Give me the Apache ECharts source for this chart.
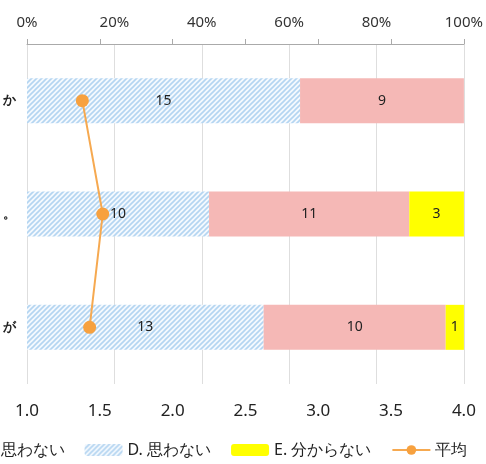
<!DOCTYPE html>
<html><head><meta charset="utf-8">
<script src="https://cdn.jsdelivr.net/npm/echarts@6/dist/echarts.min.js"></script>
<style>html,body{margin:0;padding:0;background:#fff}#c{width:486px;height:464px}</style>
</head><body><div id="c"></div>
<script>
var categories = ['か', '。', 'が'];
var seriesD = [15, 10, 13];   // D. 思わない (hatched)
var seriesC = [9, 11, 10];    // C. あまり思わない (pink)
var seriesE = [0, 3, 1];      // E. 分からない (yellow)
var averages = [1.38, 1.52, 1.43];
var pctTicks = [0, 20, 40, 60, 80, 100];
var avgTicks = [1.0, 1.5, 2.0, 2.5, 3.0, 3.5, 4.0];

var totals = categories.map(function (_, i) { return seriesD[i] + seriesC[i] + seriesE[i]; });
function pct(arr) { return arr.map(function (v, i) { return { value: v / totals[i] * 100, count: v }; }); }

var pc = document.createElement('canvas');
pc.width = 5; pc.height = 5;
var g = pc.getContext('2d');
g.fillStyle = '#f4f9fe'; g.fillRect(0, 0, 5, 5);
g.strokeStyle = '#b4d5f1'; g.lineWidth = 1.6;
g.beginPath();
g.moveTo(-1, 6); g.lineTo(6, -1);
g.moveTo(-6, 6); g.lineTo(1, -1);
g.moveTo(4, 6); g.lineTo(11, -1);
g.stroke();

var font = 'Noto Sans';
var lbl = {
  show: true, position: 'inside', color: '#222', fontFamily: font, fontSize: 14,
  formatter: function (p) { return p.data.count > 0 ? p.data.count : ''; }
};
var chart = echarts.init(document.getElementById('c'));
chart.setOption({
  animation: false,
  textStyle: { fontFamily: font },
  grid: { left: 24, right: 18, top: 44, bottom: 80 },
  legend: {
    bottom: 1, left: -114, itemGap: 20, itemWidth: 38, itemHeight: 12,
    textStyle: { fontSize: 16, color: '#222', fontFamily: font },
    data: ['C. あまり思わない', 'D. 思わない', 'E. 分からない', '平均']
  },
  xAxis: [
    { type: 'value', position: 'top', min: 0, max: 100, interval: 20,
      axisLine: { show: false }, axisTick: { show: false },
      axisLabel: { formatter: '{value}%', color: '#333', fontSize: 15, margin: 14, fontFamily: font },
      splitLine: { show: true, lineStyle: { color: '#dedede' } } },
    { type: 'value', position: 'top', min: 1, max: 4, interval: 0.5,
      axisLine: { show: true, lineStyle: { color: '#aaa' } },
      axisTick: { show: true, length: 5, lineStyle: { color: '#aaa' } },
      axisLabel: { show: false }, splitLine: { show: false } },
    { type: 'value', position: 'bottom', min: 1, max: 4, interval: 0.5,
      axisLine: { show: false }, axisTick: { show: false },
      axisLabel: { formatter: function (v) { return v.toFixed(1); }, color: '#222', fontSize: 17, margin: 19, fontFamily: font },
      splitLine: { show: false } }
  ],
  yAxis: { type: 'category', inverse: true, data: categories,
    axisLine: { show: false }, axisTick: { show: false },
    axisLabel: { color: '#222', fontSize: 13, margin: 11, fontWeight: 'bold' } },
  series: [
    { name: 'D. 思わない', type: 'bar', stack: 's', xAxisIndex: 0, barWidth: 45,
      itemStyle: { color: { image: pc, repeat: 'repeat' } }, label: lbl, data: pct(seriesD) },
    { name: 'C. あまり思わない', type: 'bar', stack: 's', xAxisIndex: 0,
      itemStyle: { color: '#f5b8b6' }, label: lbl, data: pct(seriesC) },
    { name: 'E. 分からない', type: 'bar', stack: 's', xAxisIndex: 0,
      itemStyle: { color: '#ffff00' }, label: lbl, data: pct(seriesE) },
    { name: '平均', type: 'line', xAxisIndex: 2, data: averages.map(function (v, i) { return [v, i]; }),
      symbol: 'circle', symbolSize: 13, z: 5,
      lineStyle: { color: '#f6a950', width: 2 }, itemStyle: { color: '#f7a13f' } }
  ]
});
</script></body></html>
